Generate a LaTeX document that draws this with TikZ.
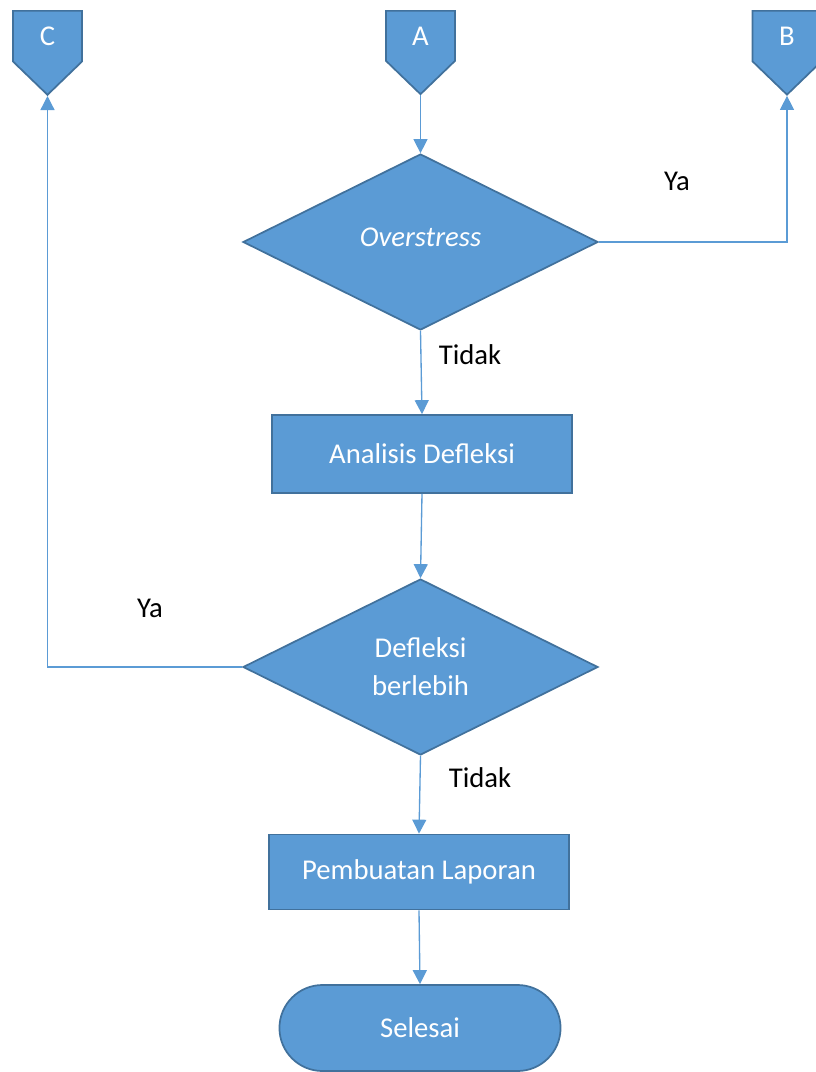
\documentclass[tikz,border=0pt]{standalone}
\usepackage{fontspec}
\setmainfont{Carlito}
\usetikzlibrary{shapes.geometric,shapes.symbols,shapes.misc,arrows.meta}
\definecolor{boxblue}{HTML}{5B9BD5}
\definecolor{edgeblue}{HTML}{41719C}
\begin{document}
\begin{tikzpicture}[x=0.75pt, y=-0.75pt,
  box/.style={draw=edgeblue, fill=boxblue, line width=1.3pt, text=white, font=\fontsize{21.5}{28.5}\selectfont},
  offpage/.style={box, signal, signal to=south, signal from=nowhere, signal pointer angle=92, minimum width=51.75pt, minimum height=43.5pt, inner sep=0pt},
  decision/.style={box, diamond, minimum width=266.25pt, minimum height=132pt, inner sep=0pt, align=center},
  process/.style={box, rectangle, minimum width=225pt, inner sep=0pt},
  ends/.style={box, rounded rectangle, minimum width=217.5pt, minimum height=64.5pt},
  flow/.style={draw=boxblue, line width=1pt, -{Triangle[length=10.5pt, width=10.5pt]}},
  lbl/.style={font=\fontsize{21.5}{26}\selectfont}]
\useasboundingbox (0,0) rectangle (816,1072);
\node (C) [offpage, anchor=north] at (47.5,10) {C};
\node (A) [offpage, anchor=north] at (420.5,10) {A};
\node (B) [offpage, anchor=north] at (787,10) {B};
\node (over) [decision] at (420.5,242) {\raisebox{7pt}{\itshape Overstress}};
\node (analisis) [process, minimum height=58.5pt] at (422,454) {Analisis Defleksi};
\node (defl) [decision] at (420.5,667) {Defleksi\\berlebih};
\node (lapor) [process, minimum height=56.25pt] at (419,872) {Pembuatan Laporan};
\node (selesai) [ends] at (420,1028) {Selesai};
\node (ya1) [lbl] at (677,181) {Ya};
\node (tidak1) [lbl] at (470,355) {Tidak};
\node (ya2) [lbl] at (150,608) {Ya};
\node (tidak2) [lbl] at (480,778) {Tidak};
\draw[flow] (A.south) -- (over.north);
\draw[flow] (over.east) -| (B.south);
\draw[flow] (over.south) -- (analisis.north);
\draw[flow] (analisis.south) -- (defl.north);
\draw[flow] (defl.west) -| (C.south);
\draw[flow] (defl.south) -- (lapor.north);
\draw[flow] (lapor.south) -- (selesai.north);
\end{tikzpicture}
\end{document}
